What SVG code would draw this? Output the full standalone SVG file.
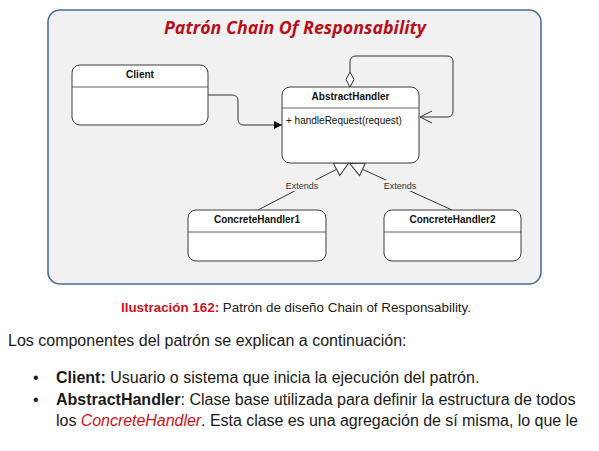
<svg xmlns="http://www.w3.org/2000/svg" width="599" height="451" viewBox="0 0 599 451">
  <style>
    .frame { fill: #f1f1f1; stroke: #4a6b9b; stroke-width: 1.6; }
    .cls { fill: #ffffff; stroke: #3c3c3c; stroke-width: 1; }
    .sep { stroke: #3c3c3c; stroke-width: 0.8; fill: none; }
    .edge { fill: none; stroke: #333333; stroke-width: 1; }
    .cname { font-family: "Liberation Sans", Arial, sans-serif; font-size: 10px; font-weight: bold; fill: #111111; text-anchor: middle; }
    .op { font-family: "Liberation Sans", Arial, sans-serif; font-size: 10px; fill: #111111; }
    .lbl { font-family: "Liberation Sans", Arial, sans-serif; font-size: 9px; fill: #333333; text-anchor: middle; }
    .lblbg { fill: #f1f1f1; }
    .title { font-family: "Open Sans", "Liberation Sans", sans-serif; font-size: 18px; font-weight: bold; font-style: italic; fill: #b80f1a; text-anchor: middle; }
    .body { font-family: "Liberation Sans", Arial, sans-serif; font-size: 16px; fill: #1a1a1a; }
    .cap { font-family: "Liberation Sans", Arial, sans-serif; font-size: 13px; fill: #1a1a1a; }
    .red { fill: #d0121b; }
    .b { font-weight: bold; }
  </style>
  <defs>
    <marker id="filled" markerUnits="userSpaceOnUse" markerWidth="10" markerHeight="10" refX="8" refY="4" orient="auto">
      <path d="M0,0 L8,4 L0,8 Z" fill="#111111"/>
    </marker>
    <marker id="extends" markerUnits="userSpaceOnUse" markerWidth="16" markerHeight="16" refX="0.5" refY="7" orient="auto" overflow="visible">
      <path d="M0.5,0 L14.5,7 L0.5,14 Z" fill="#ffffff" stroke="#333333" stroke-width="1"/>
    </marker>
  </defs>

  <rect class="frame" x="48" y="10" width="493" height="274" rx="12"/>
  <text class="title" x="295" y="34" textLength="262" lengthAdjust="spacingAndGlyphs">Patrón Chain Of Responsability</text>

  <g id="connectors">
    <!-- Client uses AbstractHandler -->
    <path class="edge" d="M208,95 H232 Q238,95 238,101 V119 Q238,125 244,125 H282" marker-end="url(#filled)"/>
    <!-- successor: aggregation of itself -->
    <path class="edge" d="M350,72 V62 Q350,56 356,56 H447 Q453,56 453,62 V111 Q453,117 447,117 H420"/>
    <path class="edge" d="M432,111 L420,117 L432,123"/>
    <path d="M350,87 L354,79.5 L350,72 L346,79.5 Z" fill="#ffffff" stroke="#333333" stroke-width="1"/>
    <!-- generalisations -->
    <path class="edge" d="M258,210 L336.5,169.3" marker-end="url(#extends)"/>
    <path class="edge" d="M452,210 L362.5,169.3" marker-end="url(#extends)"/>
    <rect class="lblbg" x="284" y="180" width="36" height="11"/>
    <text class="lbl" x="302" y="189">Extends</text>
    <rect class="lblbg" x="382" y="180" width="36" height="11"/>
    <text class="lbl" x="400" y="189">Extends</text>
  </g>

  <g id="client">
    <rect class="cls" x="72" y="65" width="136" height="60" rx="8"/>
    <line class="sep" x1="72" y1="87" x2="208" y2="87"/>
    <text class="cname" x="140" y="78">Client</text>
  </g>

  <g id="abstract-handler">
    <rect class="cls" x="282" y="87" width="137" height="76" rx="8"/>
    <line class="sep" x1="282" y1="108" x2="419" y2="108"/>
    <text class="cname" x="350.5" y="100">AbstractHandler</text>
    <text class="op" x="286" y="124">+ handleRequest(request)</text>
  </g>

  <g id="concrete-handler-1">
    <rect class="cls" x="188" y="210" width="138" height="51" rx="8"/>
    <line class="sep" x1="188" y1="232" x2="326" y2="232"/>
    <text class="cname" x="257" y="223">ConcreteHandler1</text>
  </g>

  <g id="concrete-handler-2">
    <rect class="cls" x="384" y="210" width="137" height="51" rx="8"/>
    <line class="sep" x1="384" y1="232" x2="521" y2="232"/>
    <text class="cname" x="452.5" y="223">ConcreteHandler2</text>
  </g>

  <text class="cap" x="121" y="311.5" textLength="350" lengthAdjust="spacingAndGlyphs"><tspan class="red b">Ilustración 162:</tspan> Patrón de diseño Chain of Responsability.</text>

  <text class="body" x="8" y="346">Los componentes del patrón se explican a continuación:</text>

  <text class="body" x="33" y="383">•</text>
  <text class="body" x="56" y="383"><tspan class="b">Client:</tspan> Usuario o sistema que inicia la ejecución del patrón.</text>
  <text class="body" x="33" y="405">•</text>
  <text class="body" x="56" y="405"><tspan class="b">AbstractHandler</tspan>: Clase base utilizada para definir la estructura de todos</text>
  <text class="body" x="56" y="426" textLength="522" lengthAdjust="spacing">los <tspan class="red" font-style="italic">ConcreteHandler</tspan>. Esta clase es una agregación de sí misma, lo que le</text>
</svg>
